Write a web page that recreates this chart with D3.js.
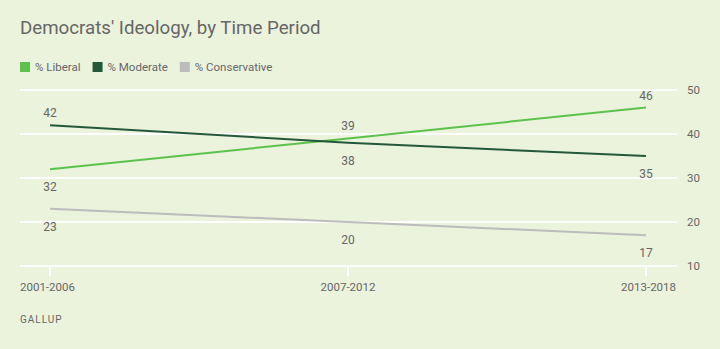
<!DOCTYPE html>
<html lang="en">
<head>
<meta charset="UTF-8">
<title>Democrats' Ideology, by Time Period</title>
<script src="https://d3js.org/d3.v7.min.js"></script>
<style>
  body { margin: 0; background: #ebf3dd; }
  svg { display: block; font-family: Roboto, "Noto Sans", sans-serif; }
</style>
</head>
<body>
<svg id="chart" width="720" height="349"></svg>
<script>
// data
const periods = ["2001-2006", "2007-2012", "2013-2018"];
const liberal = [32, 39, 46];
const moderate = [42, 38, 35];
const conservative = [23, 20, 17];
const yTicks = [10, 20, 30, 40, 50];

const series = [
  { name: "% Liberal", values: liberal, color: "#5cc24c", labelPos: ["below", "above", "above"] },
  { name: "% Moderate", values: moderate, color: "#24583a", labelPos: ["above", "below", "below"] },
  { name: "% Conservative", values: conservative, color: "#bcbcbc", labelPos: ["below", "below", "below"] }
];

const svg = d3.select("#chart");
const textColor = "#666";

const x = d3.scalePoint().domain(periods).range([50, 646]);
const y = d3.scaleLinear().domain([10, 50]).range([266, 90]);

// title
svg.append("text").attr("x", 20).attr("y", 34)
  .attr("font-size", 18.7).attr("fill", textColor)
  .text("Democrats' Ideology, by Time Period");

// legend
let lx = 20;
series.forEach(s => {
  svg.append("rect").attr("x", lx).attr("y", 62).attr("width", 10).attr("height", 10).attr("fill", s.color);
  const t = svg.append("text").attr("x", lx + 15).attr("y", 71)
    .attr("font-size", 11.5).attr("fill", textColor).text(s.name);
  lx += 15 + t.node().getComputedTextLength() + 12;
});

// gridlines
svg.append("g").selectAll("line").data(yTicks).join("line")
  .attr("x1", 20).attr("x2", 677)
  .attr("y1", d => y(d)).attr("y2", d => y(d))
  .attr("stroke", "#fff").attr("stroke-width", 2);

// y labels
svg.append("g").selectAll("text").data(yTicks).join("text")
  .attr("x", 687).attr("y", d => y(d) + 4)
  .attr("font-size", 11.5).attr("fill", textColor)
  .text(d => d);

// x ticks
svg.append("g").selectAll("line").data(periods).join("line")
  .attr("x1", d => x(d)).attr("x2", d => x(d))
  .attr("y1", y(10)).attr("y2", y(10) + 10)
  .attr("stroke", "#fff").attr("stroke-width", 2);

svg.append("g").selectAll("text").data(periods).join("text")
  .attr("x", (d, i) => i === 0 ? 20 : i === periods.length - 1 ? 676 : x(d))
  .attr("y", 291)
  .attr("text-anchor", (d, i) => i === 0 ? "start" : i === periods.length - 1 ? "end" : "middle")
  .attr("font-size", 11.5).attr("fill", textColor)
  .text(d => d);

// lines
const line = d3.line().x((d, i) => x(periods[i])).y(d => y(d));
series.forEach(s => {
  svg.append("path").datum(s.values).attr("d", line)
    .attr("fill", "none").attr("stroke", s.color).attr("stroke-width", 2);
});

// data labels
series.forEach(s => {
  svg.append("g").selectAll("text").data(s.values).join("text")
    .attr("x", (d, i) => x(periods[i]))
    .attr("y", (d, i) => s.labelPos[i] === "above" ? y(d) - 8 : y(d) + 22)
    .attr("text-anchor", "middle")
    .attr("font-size", 12).attr("fill", textColor)
    .text(d => d);
});

// source
svg.append("text").attr("x", 20).attr("y", 323)
  .attr("font-size", 10).attr("fill", textColor).attr("letter-spacing", 1)
  .text("GALLUP");
</script>
</body>
</html>
